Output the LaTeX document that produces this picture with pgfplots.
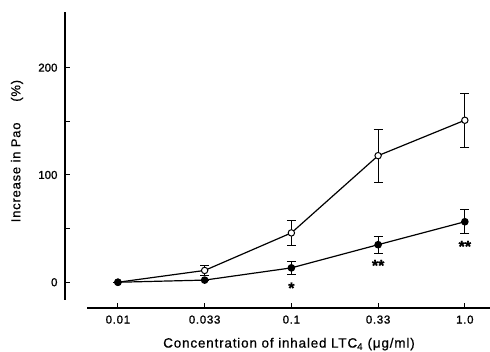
\documentclass[border=0pt]{standalone}
\usepackage{pgfplots}
\pgfplotsset{compat=1.18}
\usepackage{fontspec}
\setmainfont{Liberation Sans}[FakeBold=0.6]
\newfontfamily\spaced[LetterSpace=6,FakeBold=0.6]{Liberation Sans}
\newfontfamily\numfont[FakeBold=1.2]{Liberation Sans}
\begin{document}
\begin{tikzpicture}
\useasboundingbox (0,0) rectangle (490pt,352pt);
\begin{axis}[
  at={(65pt,44pt)}, anchor=south west,
  scale only axis, width=425pt, height=296.1pt,
  xmin=-0.61, xmax=4.29, ymin=-24, ymax=252,
  axis x line=bottom, axis y line=left,
  x axis line style={-, line width=1.2pt, shorten <=22pt},
  y axis line style={-, line width=1.2pt, shorten <=8pt},
  tick align=inside, major tick length=5pt, minor tick length=5pt,
  tick style={black, line width=1pt},
  xtick={0,1,2,3,4}, xticklabels={0.01,0.033,0.1,0.33,1.0},
  ytick={0,100,200}, yticklabels={0,100,200},
  minor ytick={50,150},
  /pgf/number format/assume math mode=true,
  xticklabel style={font=\numfont\addfontfeature{LetterSpace=6}\fontsize{11.5}{12}\selectfont, yshift=-4pt},
  yticklabel style={font=\numfont\fontsize{11.5}{12}\selectfont, xshift=-4pt},
  xlabel={Concentration of inhaled LTC\textsubscript{4} (μg/ml)},
  ylabel={Increase in Pao\hspace{1.6em}(\%)},
  every axis x label/.style={at={(axis description cs:0.527,-0.122)}, anchor=center, font=\spaced\fontsize{13.5}{14}\selectfont},
  every axis y label/.style={at={(axis description cs:-0.113,0.53)}, anchor=center, rotate=90, font=\spaced\fontsize{13}{14}\selectfont},
  clip=false,
]
\addplot[black, line width=1.2pt, mark=*, mark size=3.2pt,
  mark options={fill=white, line width=1pt},
  error bars/.cd, y dir=both, y explicit,
  error bar style={line width=1pt},
  error mark options={rotate=90, mark size=4.5pt, line width=1pt}]
  coordinates {
  (0,0) +- (0,0)
  (1,11) +- (0,4.7)
  (2,46) +- (0,11.7)
  (3,118) +- (0,24.7)
  (4,151) +- (0,25)
  };
\addplot[black, line width=1.2pt, mark=*, mark size=3.2pt,
  mark options={fill=black},
  error bars/.cd, y dir=both, y explicit,
  error bar style={line width=1pt},
  error mark options={rotate=90, mark size=4.5pt, line width=1pt}]
  coordinates {
  (0,0) +- (0,0)
  (1,2) +- (0,0)
  (2,13.4) +- (0,6.2)
  (3,35) +- (0,7.8)
  (4,56.4) +- (0,11)
  };
\node[font=\fontsize{16}{16}\selectfont\bfseries] at (axis cs:2,-5.4) {*};
\node[font=\fontsize{16}{16}\selectfont\bfseries] at (axis cs:3,15.6) {**};
\node[font=\fontsize{16}{16}\selectfont\bfseries] at (axis cs:4,33.4) {**};
\end{axis}
\end{tikzpicture}
\end{document}
